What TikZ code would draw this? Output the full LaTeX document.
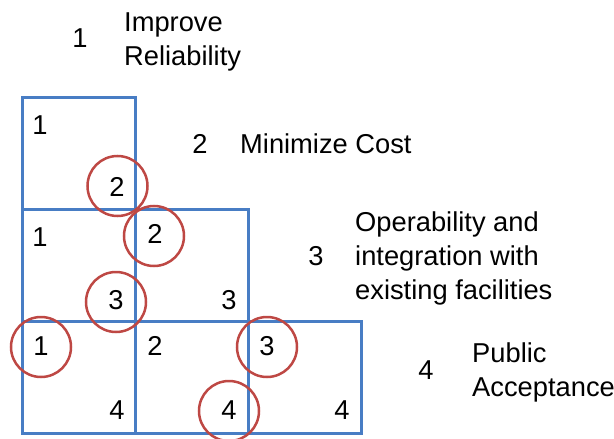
\documentclass[tikz,border=0pt]{standalone}
\usepackage{fontspec}
\setmainfont{Liberation Sans}
\definecolor{boxblue}{RGB}{72,125,196}
\definecolor{ringred}{RGB}{190,72,68}
\begin{document}
\begin{tikzpicture}[x=1pt,y=-1pt,
  every node/.style={font=\fontsize{27.3}{34}\selectfont, inner sep=0pt},
  cell/.style={draw=boxblue, line width=3pt, minimum width=113pt, minimum height=112pt},
  num/.style={},
  lbl/.style={anchor=west, align=left},
  ring/.style={draw=ringred, line width=2.5pt}]
\useasboundingbox (0,0) rectangle (614,439);
% cells
\node[cell] (c1) at (78.5,153) {};
\node[cell] (c21) at (78.5,265) {};
\node[cell] (c22) at (191.5,265) {};
\node[cell] (c31) at (78.5,377) {};
\node[cell] (c32) at (191.5,377) {};
\node[cell] (c33) at (304.5,377) {};
% numbers in cells
\node[num] (a1) at (40,125) {1};
\node[num] (a2) at (117,187) {2};
\node[num] (b1) at (40,237) {1};
\node[num] (b3) at (116,300) {3};
\node[num] (b2) at (155,234) {2};
\node[num] (b3b) at (229,300) {3};
\node[num] (d1) at (41,346) {1};
\node[num] (d4) at (117,410) {4};
\node[num] (d2) at (155,346) {2};
\node[num] (d4b) at (229,410) {4};
\node[num] (d3) at (267,346) {3};
\node[num] (d4c) at (342,410) {4};
% rings
\draw[ring] (117.5,186) circle (30);
\draw[ring] (154,236) circle (30);
\draw[ring] (116,302) circle (30);
\draw[ring] (41,347) circle (30);
\draw[ring] (267,347) circle (30);
\draw[ring] (229,411) circle (30);
% legend
\node (k1) at (80,38) {1};
\node[lbl] (t1) at (124,42) {Improve\\Reliability};
\node (k2) at (200,144) {2};
\node[lbl] (t2) at (240,144) {Minimize Cost};
\node (k3) at (316,256) {3};
\node[lbl] (t3) at (355,258) {Operability and\\integration with\\existing facilities};
\node (k4) at (426,370) {4};
\node[lbl] (t4) at (472,372) {Public\\Acceptance};
\end{tikzpicture}
\end{document}
